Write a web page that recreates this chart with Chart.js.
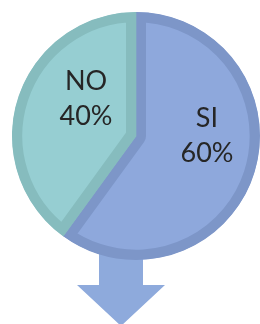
<!DOCTYPE html>
<html lang="es">
<head>
    <meta charset="UTF-8">
    <title>SI / NO</title>
    <script src="https://cdn.jsdelivr.net/npm/chart.js"></script>
    <style>
        html, body { margin: 0; padding: 0; background: #fff; overflow: hidden; }
        .chart-box { position: relative; width: 262px; height: 324px; }
    </style>
</head>
<body>
    <div class="chart-box">
        <canvas id="pieChart"></canvas>
    </div>

    <script>
        const categories = ['SI', 'NO'];
        const shares = [60, 40];
        const fillColors = ['#8ea8dc', '#96ced2'];
        const edgeColors = ['#7d96c8', '#86bcbe'];

        // down arrow under the pie, drawn before the slices so it sits behind
        const arrowPlugin = {
            id: 'arrow',
            beforeDatasetsDraw(chart) {
                const ctx = chart.ctx;
                const cx = 121;
                ctx.save();
                ctx.fillStyle = '#8eaadc';
                ctx.beginPath();
                ctx.moveTo(cx - 22, 240);
                ctx.lineTo(cx + 22, 240);
                ctx.lineTo(cx + 22, 285);
                ctx.lineTo(cx + 44, 285);
                ctx.lineTo(cx, 326);
                ctx.lineTo(cx - 44, 285);
                ctx.lineTo(cx - 22, 285);
                ctx.closePath();
                ctx.fill();
                ctx.restore();
            }
        };

        // category + percent text inside each slice
        const sliceLabels = {
            id: 'sliceLabels',
            afterDatasetsDraw(chart, args, opts) {
                const ctx = chart.ctx;
                const meta = chart.getDatasetMeta(0);
                const total = shares.reduce((a, b) => a + b, 0);
                ctx.save();
                ctx.font = '400 27px Lato, "Open Sans", sans-serif';
                ctx.fillStyle = '#262626';
                ctx.textAlign = 'center';
                ctx.textBaseline = 'middle';
                meta.data.forEach((arc, i) => {
                    const p = arc.getCenterPoint();
                    const nudge = opts.nudge[i] || { dx: 0, dy: 0 };
                    const x = p.x + nudge.dx;
                    const y = p.y + nudge.dy;
                    const pct = Math.round(shares[i] / total * 100) + '%';
                    ctx.fillText(categories[i], x, y - 35);
                    ctx.fillText(pct, x, y);
                });
                ctx.restore();
            }
        };

        new Chart(document.getElementById('pieChart'), {
            type: 'pie',
            data: {
                labels: categories,
                datasets: [{
                    data: shares,
                    backgroundColor: fillColors,
                    borderColor: edgeColors,
                    borderWidth: 10,
                    borderAlign: 'inner'
                }]
            },
            options: {
                responsive: true,
                maintainAspectRatio: false,
                animation: false,
                layout: { padding: { left: 12, top: 12, right: 2, bottom: 64 } },
                plugins: {
                    legend: { display: false },
                    tooltip: { enabled: false },
                    sliceLabels: { nudge: [{ dx: 12, dy: -2 }, { dx: 9, dy: -1 }] }
                }
            },
            plugins: [arrowPlugin, sliceLabels]
        });
    </script>
</body>
</html>
